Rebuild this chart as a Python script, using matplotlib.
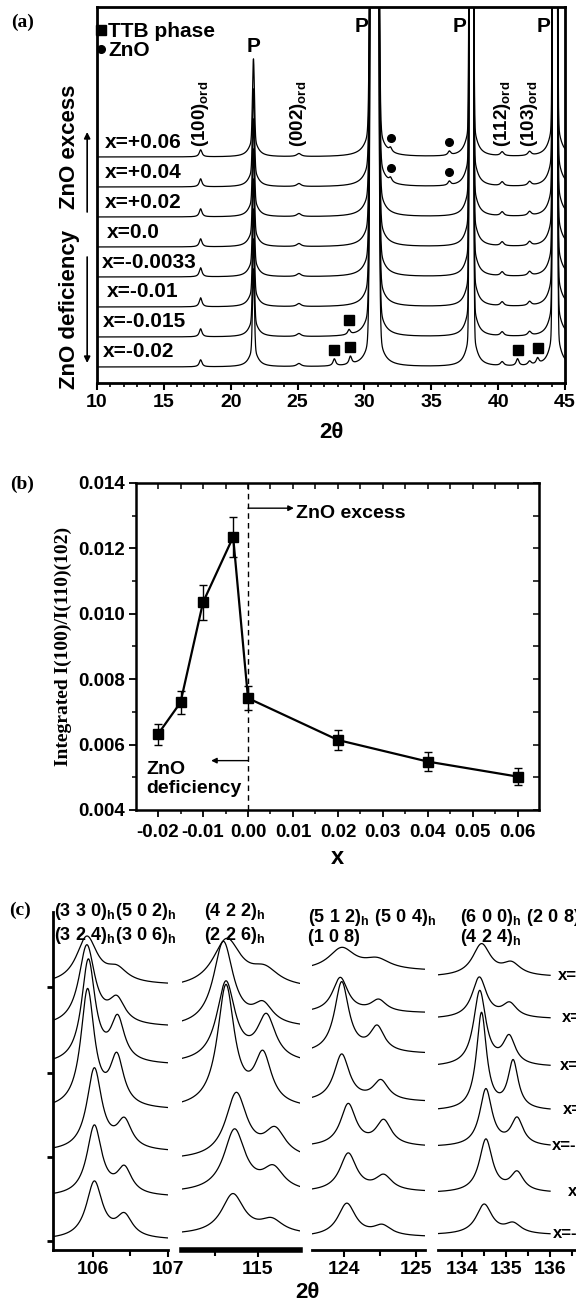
import numpy as np
import matplotlib
matplotlib.use("Agg")
import matplotlib.pyplot as plt
import matplotlib.transforms as mtransforms
from matplotlib.ticker import MultipleLocator, FixedLocator, NullFormatter

plt.rcParams['font.family'] = ['Liberation Sans', 'DejaVu Sans']
plt.rcParams['font.weight'] = 'bold'
plt.rcParams['axes.labelweight'] = 'bold'
plt.rcParams['mathtext.fontset'] = 'custom'
plt.rcParams['mathtext.rm'] = 'Liberation Sans:bold'
plt.rcParams['mathtext.it'] = 'Liberation Sans:italic:bold'
plt.rcParams['mathtext.bf'] = 'Liberation Sans:bold'

W, H = 576, 1302

# ---------------- (a) XRD patterns, 10-45 deg ----------------
a_labels = ["x=+0.06", "x=+0.04", "x=+0.02", "x=0.0", "x=-0.0033",
            "x=-0.01", "x=-0.015", "x=-0.02"]
a_offset = [226, 196, 166, 136, 106, 76, 46, 16]
a_label_x = [10.6, 10.6, 10.6, 10.75, 10.37, 10.75, 10.45, 10.45]

# perovskite (P) reflections: gaussian core + lorentzian foot
p_pos = [21.7, 30.75, 38.0, 44.25]
p_core = [80, 6000, 6000, 6000]
p_sigma = [0.07, 0.14, 0.073, 0.08]
p_tail = [18, 60, 40, 45]
p_tail_w = [0.35, 0.4, 0.35, 0.35]
p_label_x = [21.7, 29.8, 37.1, 43.4]
p_label_y = [336, 356, 356, 356]

# ordering superlattice reflections
ord_pos = [17.75, 25.1, 40.3, 42.35]
ord_names = ["(100)", "(002)", "(112)", "(103)"]
ord_h100 = [7, 8, 8, 8, 9, 9, 8, 7]
ord_h_other = [3, 4, 4]
ord_w = [0.12, 0.2, 0.15, 0.15]

# second phases
zno_pos = [31.95, 36.35]
zno_h = [4, 4, 0, 0, 0, 0, 0, 0]
ttb_curve = [6, 7, 7, 7, 7]
ttb_pos = [28.85, 27.75, 28.95, 41.45, 42.95]
ttb_h = [5, 7, 8, 7, 6]

# ---------------- (b) integrated intensity ratio ----------------
b_x = [-0.02, -0.015, -0.01, -0.0033, 0.0, 0.02, 0.04, 0.06]
b_y = [0.00632, 0.00729, 0.01035, 0.01235, 0.00742, 0.00614, 0.00548, 0.00502]
b_err = [0.00032, 0.00034, 0.00053, 0.00062, 0.00036, 0.00030, 0.00028, 0.00027]

# ---------------- (c) high angle reflections ----------------
c_labels = ["x=+0.06", "x=+0.04", "x=+0.02", "x=0.0", "x=-0.0033", "x=-0.01", "x=-0.02"]
c_label_x = [136.18, 136.27, 136.22, 136.3, 136.04, 136.4, 136.07]
c_range = [(105.47, 107.0), (114.12, 115.49), (123.56, 125.12), (133.45, 136.0)]
c_base = [[265, 223, 185, 140, 98, 53, 10],
          [261, 222, 186, 141, 90, 57, 15],
          [279, 237, 196, 148, 103, 58, 13],
          [273, 231, 183, 139, 103, 57, 15]]
c_pos1 = [[105.92, 105.92, 105.94, 105.93, 106.02, 106.02, 106.02],
          [114.64, 114.60, 114.63, 114.63, 114.75, 114.73, 114.71],
          [123.97, 123.95, 123.97, 123.97, 124.06, 124.06, 124.04],
          [134.44, 134.39, 134.40, 134.44, 134.54, 134.54, 134.50]]
c_h1 = [[47, 80, 103, 118, 82, 70, 57],
        [48, 85, 80, 121, 65, 62, 40],
        [22, 35, 71, 47, 42, 38, 33],
        [32, 41, 75, 97, 57, 53, 30]]
c_gam = [[0.17, 0.13, 0.11, 0.11, 0.12, 0.12, 0.13],
         [0.20, 0.14, 0.13, 0.12, 0.15, 0.15, 0.16],
         [0.22, 0.13, 0.12, 0.13, 0.13, 0.14, 0.15],
         [0.25, 0.20, 0.17, 0.14, 0.17, 0.18, 0.22]]
c_pos2 = [[106.32, 106.32, 106.33, 106.32, 106.42, 106.42, 106.42],
          [115.08, 115.06, 115.10, 115.06, 115.20, 115.18, 115.16],
          [124.46, 124.48, 124.46, 124.51, 124.55, 124.55, 124.53],
          [135.12, 135.08, 135.07, 135.16, 135.25, 135.25, 135.16]]
c_h2 = [[13, 24, 43, 49, 28, 26, 22],
        [16, 20, 45, 50, 27, 22, 13],
        [10, 12, 25, 20, 25, 15, 10],
        [12, 14, 28, 48, 27, 19, 10]]
c_titles = [(r"$\mathrm{(3\ 3\ 0)_h(5\ 0\ 2)_h}$", 54, 911),
            (r"$\mathrm{(3\ 2\ 4)_h(3\ 0\ 6)_h}$", 54, 936),
            (r"$\mathrm{(4\ 2\ 2)_h}$", 204, 911),
            (r"$\mathrm{(2\ 2\ 6)_h}$", 204, 936),
            (r"$\mathrm{(5\ 1\ 2)_h\ (5\ 0\ 4)_h}$", 308, 918),
            ("(1 0 8)", 308, 938),
            (r"$\mathrm{(6\ 0\ 0)_h\ (2\ 0\ 8)_h}$", 460, 918),
            (r"$\mathrm{(4\ 2\ 4)_h}$", 460, 938)]


def rect(l, t, r, b):
    return [l / W, 1 - b / H, (r - l) / W, (b - t) / H]


def lor(x, c, h, g):
    return h * g ** 2 / ((x - c) ** 2 + g ** 2)


def gau(x, c, h, s):
    return h * np.exp(-0.5 * ((x - c) / s) ** 2)


def a_curve(i, x):
    y = np.full_like(x, float(a_offset[i]))
    for c, h, s, t, tw in zip(p_pos, p_core, p_sigma, p_tail, p_tail_w):
        y += gau(x, c, h, s) + lor(x, c, t, tw)
    y += lor(x, ord_pos[0], ord_h100[i], ord_w[0])
    for c, h, w in zip(ord_pos[1:], ord_h_other, ord_w[1:]):
        y += lor(x, c, h, w)
    for c in zno_pos:
        y += lor(x, c, zno_h[i], 0.12)
    for ci, c, h in zip(ttb_curve, ttb_pos, ttb_h):
        if ci == i:
            y += lor(x, c, h, 0.12)
    return y


def c_curve(s, i, x):
    return (c_base[s][i] + lor(x, c_pos1[s][i], c_h1[s][i], c_gam[s][i])
            + lor(x, c_pos2[s][i], c_h2[s][i], c_gam[s][i]))


fig = plt.figure(figsize=(W / 100, H / 100), dpi=100)

# ======================= panel (a) =======================
axa = fig.add_axes(rect(97, 7, 565, 383))
xa = np.linspace(10, 45, 4000)
for i, lab in enumerate(a_labels):
    axa.plot(xa, a_curve(i, xa), color='black', lw=0.9)
    axa.text(a_label_x[i], a_offset[i] + 15, lab, fontsize=15, ha='left', va='center')

for k, (ci, c) in enumerate(zip(ttb_curve, ttb_pos)):
    yy = a_curve(ci, np.array([c]))[0] + 9
    axa.plot([c], [yy], 's', color='black', ms=7.5, label='TTB phase' if k == 0 else None)
first = True
for i in range(len(a_labels)):
    if zno_h[i] > 0:
        for c in zno_pos:
            yy = a_curve(i, np.array([c]))[0] + 9
            axa.plot([c], [yy], 'o', color='black', ms=5.5, label='ZnO' if first else None)
            first = False

axa.legend(loc='upper left', bbox_to_anchor=(-0.012, 0.97), frameon=False, fontsize=15,
           handlelength=0.5, handletextpad=0.1, labelspacing=0.0, borderpad=0.2,
           borderaxespad=0)

for x, y in zip(p_label_x, p_label_y):
    axa.text(x, y, 'P', fontsize=15, ha='center', va='center')
for c, name in zip(ord_pos, ord_names):
    axa.text(c, 236, r'$\mathrm{' + name + r'_{ord}}$', rotation=90, fontsize=13.5,
             ha='center', va='bottom')

axa.set_xlim(10, 45)
axa.set_ylim(0, 376)
axa.set_yticks([])
axa.xaxis.set_major_locator(MultipleLocator(5))
axa.xaxis.set_minor_locator(MultipleLocator(1))
axa.tick_params(axis='x', which='major', direction='out', length=5, width=1.5, labelsize=14, pad=3)
axa.tick_params(axis='x', which='minor', direction='out', length=3, width=1.2)
for sp in axa.spines.values():
    sp.set_linewidth(2)

trans = mtransforms.blended_transform_factory(axa.transAxes, axa.transData)
axa.text(-0.058, 236, 'ZnO excess', rotation=90, fontsize=16,
         ha='center', va='center', transform=trans)
axa.text(-0.058, 74, 'ZnO deficiency', rotation=90, fontsize=16,
         ha='center', va='center', transform=trans)
arrow = dict(arrowstyle='-|>', lw=1.2, color='black', mutation_scale=9, shrinkA=0, shrinkB=0)
axa.annotate('', xy=(-0.021, 251), xytext=(-0.021, 171), xycoords=trans, textcoords=trans,
             arrowprops=arrow, annotation_clip=False)
axa.annotate('', xy=(-0.021, 20), xytext=(-0.021, 126), xycoords=trans, textcoords=trans,
             arrowprops=arrow, annotation_clip=False)
fig.text(331 / W, 1 - 433 / H, '2θ', fontsize=16, ha='center', va='center')

# ======================= panel (b) =======================
axb = fig.add_axes(rect(136, 483, 539, 810))
axb.errorbar(b_x, b_y, yerr=b_err, color='black', marker='s', ms=7.5, lw=1.6,
             elinewidth=1.0, capsize=3, capthick=1)
axb.axvline(0, color='black', lw=1, ls=(0, (4, 3)))
axb.annotate('', xy=(0.0102, 0.01323), xytext=(0.0, 0.01323),
             arrowprops=dict(arrowstyle='-|>', lw=1, color='black', mutation_scale=8,
                             shrinkA=0, shrinkB=0))
axb.text(0.0106, 0.01308, 'ZnO excess', fontsize=14, va='center', ha='left')
axb.annotate('', xy=(-0.0082, 0.00551), xytext=(0.0, 0.00551),
             arrowprops=dict(arrowstyle='-|>', lw=1, color='black', mutation_scale=8,
                             shrinkA=0, shrinkB=0))
axb.text(-0.0226, 0.00495, 'ZnO\ndeficiency', fontsize=14, va='center', ha='left',
         linespacing=1.2)
axb.set_xlim(-0.0249, 0.0647)
axb.set_ylim(0.004, 0.014)
axb.xaxis.set_major_locator(MultipleLocator(0.01))
axb.xaxis.set_minor_locator(MultipleLocator(0.005))
axb.yaxis.set_major_locator(MultipleLocator(0.002))
axb.yaxis.set_minor_locator(MultipleLocator(0.001))
axb.xaxis.set_major_formatter(lambda v, p: f"{v:.2f}".replace('-0.00', '0.00'))
axb.yaxis.set_major_formatter(lambda v, p: f"{v:.3f}")
axb.tick_params(which='major', direction='out', length=5, width=1.3, labelsize=13.5)
axb.tick_params(axis='x', which='major', pad=5)
axb.tick_params(axis='y', which='major', pad=3)
axb.tick_params(which='minor', direction='out', length=3, width=1.1)
for sp in axb.spines.values():
    sp.set_linewidth(1.8)
top = axb.secondary_xaxis('top')
top.xaxis.set_major_locator(MultipleLocator(0.005))
top.xaxis.set_major_formatter(NullFormatter())
top.tick_params(direction='in', length=4, width=1.1)
right = axb.secondary_yaxis('right')
right.yaxis.set_major_locator(MultipleLocator(0.001))
right.yaxis.set_major_formatter(NullFormatter())
right.tick_params(direction='in', length=4, width=1.1)
axb.set_xlabel('x', fontsize=17, labelpad=4)
axb.set_ylabel('Integrated I(100)/I(110)(102)', fontsize=14, fontweight='bold',
               family=['Liberation Serif', 'DejaVu Serif'], labelpad=4)

# ======================= panel (c) =======================
seg_px = [(53, 168), (182, 300), (312, 425), (438, 594)]
seg_xlim = [(105.47, 107.0), (114.12, 115.49), (123.56, 125.12), (133.45, 137.0)]
seg_major = [[106, 107], [115], [124, 125], [134, 135, 136]]
seg_minor = [[106.5], [114.5], [124.5], [134.5, 135.5, 136.5]]
for s in range(4):
    ax = fig.add_axes(rect(seg_px[s][0], 912, seg_px[s][1], 1250))
    xc = np.linspace(c_range[s][0], c_range[s][1], 600)
    for i in range(len(c_labels)):
        ax.plot(xc, c_curve(s, i, xc), color='black', lw=0.9)
    ax.set_xlim(*seg_xlim[s])
    ax.set_ylim(0, 338)
    ax.patch.set_visible(False)
    for side in ('top', 'right'):
        ax.spines[side].set_visible(False)
    ax.spines['bottom'].set_linewidth(4 if s == 1 else 2)
    ax.xaxis.set_major_locator(FixedLocator(seg_major[s]))
    ax.xaxis.set_minor_locator(FixedLocator(seg_minor[s]))
    ax.tick_params(axis='x', which='major', direction='out', length=5, width=1.5,
                   labelsize=14, pad=3)
    ax.tick_params(axis='x', which='minor', direction='out', length=4, width=1.5)
    if s == 0:
        ax.spines['left'].set_linewidth(2)
        ax.set_yticks([263, 177, 93, 9])
        ax.set_yticklabels([])
        ax.tick_params(axis='y', direction='out', length=4, width=2)
    else:
        ax.spines['left'].set_visible(False)
        ax.set_yticks([])
    if s == 3:
        # labels run past the right edge of the figure, as in the source
        for i, lab in enumerate(c_labels):
            ax.text(c_label_x[i], c_base[s][i] + 2, lab, fontsize=12, ha='left',
                    va='center', clip_on=False)

for txt, x, y in c_titles:
    fig.text(x / W, 1 - y / H, txt, fontsize=13, ha='left', va='center')
fig.text(307 / W, 1 - 1293 / H, '2θ', fontsize=16, ha='center', va='center')

# panel letters
for lab, x, y in [('(a)', 23, 22), ('(b)', 22, 484), ('(c)', 20, 910)]:
    fig.text(x / W, 1 - y / H, lab, fontsize=14, fontweight='bold',
             family=['Liberation Serif', 'DejaVu Serif'], ha='center', va='center')

fig.savefig('out.png', dpi=100)
